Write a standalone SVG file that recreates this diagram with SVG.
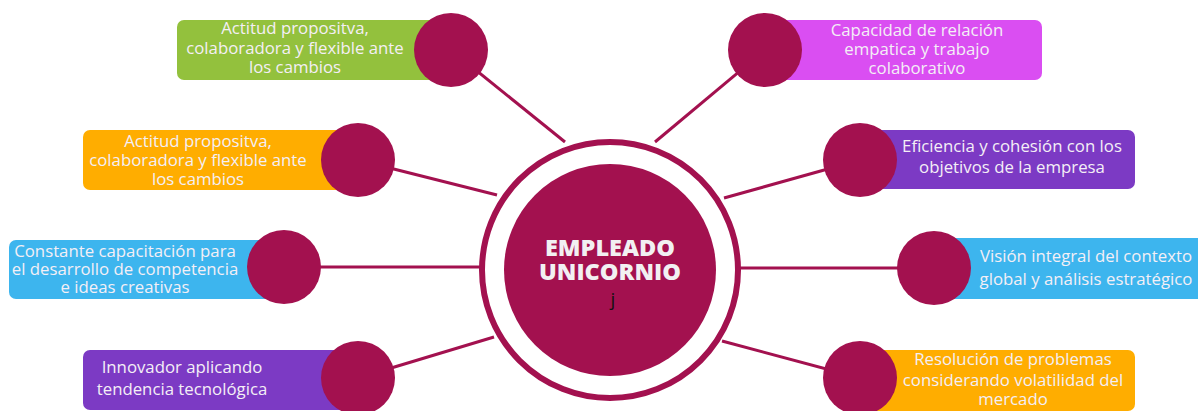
<svg xmlns="http://www.w3.org/2000/svg" width="1198" height="411" viewBox="0 0 1198 411">
<style>
.box{stroke:none}
.dot{fill:#a3114f}
.lbl{font-family:"Open Sans","Noto Sans",sans-serif;font-size:16.8px;fill:#f4eff6;text-anchor:middle}
.con{stroke:#a3114f;stroke-width:3;fill:none}
.title{font-family:"Open Sans","Noto Sans",sans-serif;font-size:23.5px;font-weight:800;fill:#f2f0f2;text-anchor:middle}
</style>
<rect width="1198" height="411" fill="#ffffff"/>
<g id="connectors">
<line class="con" x1="451" y1="50" x2="565" y2="142"/>
<line class="con" x1="765" y1="50" x2="655" y2="142"/>
<line class="con" x1="358" y1="160" x2="497" y2="195"/>
<line class="con" x1="860" y1="160" x2="724" y2="198"/>
<line class="con" x1="284" y1="267" x2="481" y2="267"/>
<line class="con" x1="934" y1="268" x2="739" y2="268"/>
<line class="con" x1="358" y1="378" x2="494" y2="337"/>
<line class="con" x1="860" y1="378" x2="722" y2="341"/>
</g>
<g id="center">
<circle cx="610" cy="270" r="128" fill="#ffffff" stroke="#a3114f" stroke-width="6"/>
<circle cx="610" cy="270" r="106" fill="#a3114f"/>
<text class="title" x="610" y="256">EMPLEADO</text>
<text class="title" x="610" y="280">UNICORNIO</text>
<text x="613" y="306" font-family="Open Sans, sans-serif" font-size="19" fill="#111111" text-anchor="middle">j</text>
</g>
<g id="n1">
<rect class="box" x="177" y="20" width="280" height="60" rx="7" fill="#93c13d"/>
<circle class="dot" cx="451" cy="50" r="37"/>
<text class="lbl" x="295" y="34">Actitud propositva,</text>
<text class="lbl" x="295" y="54">colaboradora y flexible ante</text>
<text class="lbl" x="295" y="73">los cambios</text>
</g>
<g id="n2">
<rect class="box" x="765" y="20" width="277" height="60" rx="7" fill="#da4ef2"/>
<circle class="dot" cx="765" cy="50" r="37"/>
<text class="lbl" x="917" y="36">Capacidad de relación</text>
<text class="lbl" x="917" y="55">empatica y trabajo</text>
<text class="lbl" x="917" y="74">colaborativo</text>
</g>
<g id="n3">
<rect class="box" x="83" y="130" width="280" height="60" rx="7" fill="#ffad00"/>
<circle class="dot" cx="358" cy="160" r="37"/>
<text class="lbl" x="198" y="147">Actitud propositva,</text>
<text class="lbl" x="198" y="166">colaboradora y flexible ante</text>
<text class="lbl" x="198" y="185">los cambios</text>
</g>
<g id="n4">
<rect class="box" x="860" y="130" width="275" height="59" rx="7" fill="#7c3ac4"/>
<circle class="dot" cx="860" cy="160" r="37"/>
<text class="lbl" x="1012" y="152">Eficiencia y cohesión con los</text>
<text class="lbl" x="1012" y="173">objetivos de la empresa</text>
</g>
<g id="n5">
<rect class="box" x="9" y="240" width="280" height="59" rx="7" fill="#3db5ee"/>
<circle class="dot" cx="284" cy="267" r="37"/>
<text class="lbl" x="125" y="257">Constante capacitación para</text>
<text class="lbl" x="125" y="275">el desarrollo de competencia</text>
<text class="lbl" x="125" y="293">e ideas creativas</text>
</g>
<g id="n6">
<rect class="box" x="934" y="238" width="275" height="61" rx="7" fill="#3db5ee"/>
<circle class="dot" cx="934" cy="268" r="37"/>
<text class="lbl" x="1086" y="262">Visión integral del contexto</text>
<text class="lbl" x="1086" y="285">global y análisis estratégico</text>
</g>
<g id="n7">
<rect class="box" x="83" y="350" width="280" height="60" rx="7" fill="#7c3ac4"/>
<circle class="dot" cx="358" cy="378" r="37"/>
<text class="lbl" x="182" y="373">Innovador aplicando</text>
<text class="lbl" x="182" y="395">tendencia tecnológica</text>
</g>
<g id="n8">
<rect class="box" x="860" y="350" width="275" height="61" rx="7" fill="#ffad00"/>
<circle class="dot" cx="860" cy="378" r="37"/>
<text class="lbl" x="1013" y="365">Resolución de problemas</text>
<text class="lbl" x="1013" y="386">considerando volatilidad del</text>
<text class="lbl" x="1013" y="405">mercado</text>
</g>
</svg>
